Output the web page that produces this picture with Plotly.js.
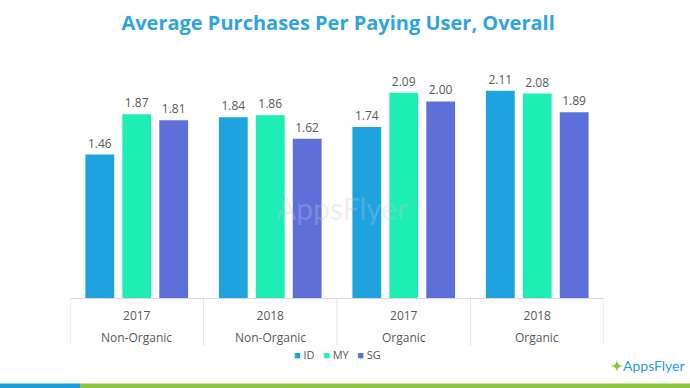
<!DOCTYPE html>
<html>
<head>
<meta charset="utf-8">
<script src="https://cdn.plot.ly/plotly-3.0.1.min.js"></script>
<style>html,body{margin:0;padding:0;background:#fff;}#chart{width:690px;height:388px;}</style>
</head>
<body>
<div id="chart"></div>
<script>
var years = ["2017", "2018", "2017", "2018"];
var types = ["Non-Organic", "Non-Organic", "Organic", "Organic"];
var seriesNames = ["ID", "MY", "SG"];
var idValues = [1.46, 1.84, 1.74, 2.11];
var myValues = [1.87, 1.86, 2.09, 2.08];
var sgValues = [1.81, 1.62, 2.00, 1.89];
var seriesColors = ["#1ea3df", "#1eedb4", "#5f6fda"];

var cats = [0, 1, 2, 3];
var allValues = [idValues, myValues, sgValues];
var traces = allValues.map(function (vals, i) {
  return {
    type: "bar",
    name: seriesNames[i],
    x: cats,
    y: vals,
    marker: { color: seriesColors[i] },
    text: vals.map(function (v) { return v.toFixed(2); }),
    textposition: "outside",
    textfont: { family: "Open Sans, sans-serif", size: 12, color: "#595959" },
    cliponaxis: false,
    hoverinfo: "skip"
  };
});

var shapes = [];
for (var k = 0; k <= cats.length; k++) {
  shapes.push({
    type: "line", xref: "x", yref: "paper",
    x0: k - 0.5, x1: k - 0.5, y0: 0, y1: -0.21,
    line: { color: "#e3e3e3", width: 1 }
  });
}
shapes.push({ type: "rect", xref: "paper", yref: "paper", x0: -0.14, x1: 0.0187, y0: -0.378, y1: -0.41, fillcolor: "#1a9fdc", line: { width: 0 } });
shapes.push({ type: "rect", xref: "paper", yref: "paper", x0: 0.0187, x1: 1.17, y0: -0.378, y1: -0.41, fillcolor: "#8dc63f", line: { width: 0 } });

var annotations = types.map(function (t, i) {
  return {
    x: i, xref: "x", y: -0.173, yref: "paper", yanchor: "middle", text: t, showarrow: false,
    font: { family: "Open Sans, sans-serif", size: 12, color: "#595959" }
  };
});
// legend row built from the series names and colours
var legendText = seriesNames.map(function (n, i) {
  return "<span style='color:" + seriesColors[i] + "'>■</span> " + n;
}).join("&nbsp;&nbsp;&nbsp;");
annotations.push({
  x: 0.5, y: -0.252, xref: "paper", yref: "paper", xanchor: "center", yanchor: "middle",
  text: legendText, showarrow: false,
  font: { family: "Open Sans, sans-serif", size: 11, color: "#595959" }
});
annotations.push({
  x: 0.51, y: 0.4, xref: "paper", yref: "paper", text: "AppsFlyer", showarrow: false,
  font: { family: "Lato, sans-serif", size: 30, color: "rgba(200,200,215,0.3)" }
});
annotations.push({
  x: 1.155, y: -0.297, xref: "paper", yref: "paper", xanchor: "right", yanchor: "middle",
  text: "<span style='color:#8dc63f'><b>✦</b></span>AppsFlyer", showarrow: false,
  font: { family: "Lato, sans-serif", size: 14, color: "#2a9fd8" }
});

var layout = {
  width: 690, height: 388,
  margin: { l: 70, r: 86, t: 72, b: 90 },
  paper_bgcolor: "#fff", plot_bgcolor: "#fff",
  title: {
    text: "<b>Average Purchases Per Paying User, Overall</b>",
    x: 0.49, xanchor: "center", y: 0.94, yanchor: "middle",
    font: { family: "Open Sans, sans-serif", size: 20, color: "#2fa4dd" }
  },
  barmode: "group", bargap: 0.17, bargroupgap: 0.22,
  xaxis: {
    type: "linear", range: [-0.5, 3.5], tickmode: "array", tickvals: cats, ticktext: years,
    showgrid: false, zeroline: false, showline: true, linecolor: "#dcdcdc", linewidth: 1,
    ticks: "", ticklabelstandoff: 7,
    tickfont: { family: "Open Sans, sans-serif", size: 12, color: "#595959" },
    fixedrange: true
  },
  yaxis: { range: [0, 2.3], visible: false, showgrid: false, zeroline: false, fixedrange: true },
  showlegend: false,
  shapes: shapes,
  annotations: annotations
};

Plotly.newPlot("chart", traces, layout, { displayModeBar: false, staticPlot: true });
</script>
</body>
</html>
